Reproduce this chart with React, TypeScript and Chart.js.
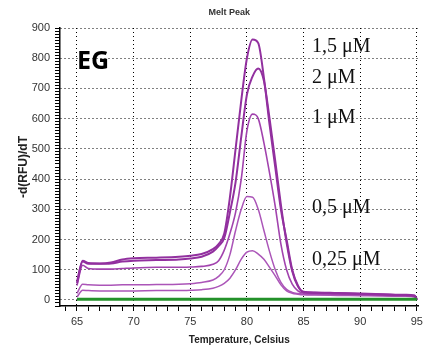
import React, { useEffect, useRef } from 'react';
import { Chart, registerables } from 'chart.js';

Chart.register(...registerables);

// ---- data ----
const temperatures = [65, 65.5, 66, 67, 68, 69, 70, 72, 74, 75, 76, 77, 77.5, 78, 78.5, 79, 79.5, 80, 80.5, 81, 81.5, 82, 82.5, 83, 83.5, 84, 84.5, 85, 86, 88, 90, 92, 94, 94.8, 95];
const conc15 = [60, 130, 122, 121, 124, 134, 138, 140, 143, 146, 152, 168, 185, 220, 340, 500, 660, 800, 862, 850, 735, 580, 440, 300, 200, 100, 48, 26, 24, 22, 20, 18, 16, 14, 2];
const conc2 = [55, 127, 120, 120, 121, 127, 130, 132, 134, 137, 143, 160, 178, 205, 290, 390, 540, 680, 740, 766, 725, 600, 460, 315, 190, 95, 45, 27, 25, 23, 21, 19, 17, 15, 3];
const conc1 = [48, 115, 104, 102, 102, 104, 106, 108, 108, 109, 111, 118, 130, 165, 220, 290, 400, 560, 615, 600, 520, 420, 310, 185, 100, 52, 30, 22, 21, 19, 18, 16, 14, 12, 2];
const conc05 = [22, 52, 50, 49, 49, 50, 50, 51, 52, 54, 58, 66, 78, 100, 150, 230, 300, 342, 340, 300, 230, 160, 100, 58, 35, 25, 21, 19, 18, 17, 16, 15, 13, 11, 1];
const conc025 = [10, 32, 31, 30, 30, 30, 30, 31, 31, 32, 34, 39, 45, 55, 72, 100, 135, 158, 163, 152, 135, 108, 80, 50, 30, 22, 19, 17, 16, 15, 14, 13, 12, 10, 1];
const ntcTemps = [65, 95];
const ntcValues = [2, 2];

const concLabels = ['1,5 μM', '2 μM', '1 μM', '0,5 μM', '0,25 μM'];
const panelLabel = 'EG';
const chartTitle = 'Melt Peak';
const xTitle = 'Temperature, Celsius';
const yTitle = '-d(RFU)/dT';
const xTickValues = Array.from({ length: 32 }, (_, i) => 64 + i); // 64..95
const yTickValues = Array.from({ length: 93 }, (_, i) => -20 + i * 10); // -20..900

// ---- layout / style config (not data) ----
const labelAnchor = { x: 85.74, ys: [820, 718, 586, 288, 116] };
const panelAnchor = { x: 65.0, y: 764 };
const titleAnchorX = 78.45;

const SANS = '"Liberation Sans", Arial, sans-serif';

const annotationPlugin = {
  id: 'textAnnotations',
  afterDatasetsDraw(chart: any) {
    const { ctx, chartArea } = chart;
    const x = chart.scales.x;
    const y = chart.scales.y;
    ctx.save();
    ctx.fillStyle = '#333';
    ctx.font = `bold 9px ${SANS}`;
    ctx.textAlign = 'center';
    ctx.textBaseline = 'middle';
    ctx.fillText(chartTitle, x.getPixelForValue(titleAnchorX), chartArea.top - 15);

    ctx.fillStyle = '#000';
    ctx.font = 'bold 25px "Open Sans", "Liberation Sans", sans-serif';
    ctx.textAlign = 'left';
    ctx.textBaseline = 'alphabetic';
    ctx.fillText(panelLabel, x.getPixelForValue(panelAnchor.x), y.getPixelForValue(panelAnchor.y));

    ctx.fillStyle = '#111';
    ctx.font = '20px "Liberation Serif", "Times New Roman", serif';
    concLabels.forEach((t, i) => {
      ctx.fillText(t, x.getPixelForValue(labelAnchor.x), y.getPixelForValue(labelAnchor.ys[i]));
    });
    ctx.restore();
  },
};

const toPoints = (xs: number[], ys: number[]) => xs.map((t, i) => ({ x: t, y: ys[i] }));

export default function App() {
  const ref = useRef<HTMLCanvasElement>(null);

  useEffect(() => {
    if (!ref.current) return;
    const lineDefaults = {
      pointRadius: 0,
      fill: false,
      cubicInterpolationMode: 'monotone' as const,
      borderJoinStyle: 'round' as const,
    };
    const chart = new Chart(ref.current, {
      type: 'line',
      data: {
        datasets: [
          { label: 'NTC', data: toPoints(ntcTemps, ntcValues), borderColor: '#23912a', borderWidth: 3, ...lineDefaults },
          { label: concLabels[0], data: toPoints(temperatures, conc15), borderColor: '#92309f', borderWidth: 2, ...lineDefaults },
          { label: concLabels[1], data: toPoints(temperatures, conc2), borderColor: '#92309f', borderWidth: 2, ...lineDefaults },
          { label: concLabels[2], data: toPoints(temperatures, conc1), borderColor: '#a243ae', borderWidth: 1.6, ...lineDefaults },
          { label: concLabels[3], data: toPoints(temperatures, conc05), borderColor: '#ab55b8', borderWidth: 1.5, ...lineDefaults },
          { label: concLabels[4], data: toPoints(temperatures, conc025), borderColor: '#ab55b8', borderWidth: 1.5, ...lineDefaults },
        ],
      },
      options: {
        responsive: false,
        animation: false,
        devicePixelRatio: 1,
        layout: { padding: { top: 28, right: 7, left: 0, bottom: 0 } },
        plugins: {
          legend: { display: false },
          tooltip: { enabled: false },
          title: { display: false },
        },
        scales: {
          x: {
            type: 'linear',
            min: 63.5,
            max: 95.15,
            afterBuildTicks: (s: any) => {
              s.ticks = xTickValues.map((v) => ({ value: v }));
            },
            afterFit: (s: any) => {
              s.height = 52;
            },
            ticks: {
              autoSkip: false,
              maxRotation: 0,
              padding: 4,
              color: '#333',
              font: { family: SANS, size: 11 },
              callback: (v: any) => (Number(v) % 5 === 0 ? String(v) : ''),
            },
            grid: {
              color: (c: any) => (c.tick && c.tick.value % 5 === 0 ? '#000' : 'rgba(0,0,0,0)'),
              lineWidth: 1,
              tickLength: 5,
              tickColor: '#000',
              tickWidth: 1,
              tickBorderDash: [],
            },
            border: { display: true, color: '#000', width: 1.5, dash: [1, 3] },
            title: {
              display: true,
              text: xTitle,
              color: '#222',
              font: { family: SANS, size: 10, weight: 'bold' },
              padding: { top: 0, bottom: 12 },
            },
          },
          y: {
            type: 'linear',
            min: -20,
            max: 900,
            afterBuildTicks: (s: any) => {
              s.ticks = yTickValues.map((v) => ({ value: v }));
            },
            afterFit: (s: any) => {
              s.width = 60;
            },
            ticks: {
              autoSkip: false,
              padding: 5,
              color: '#333',
              font: { family: SANS, size: 11 },
              callback: (v: any) => (Number(v) >= 0 && Number(v) % 100 === 0 ? String(v) : ''),
            },
            grid: {
              color: (c: any) => (c.tick && c.tick.value >= 0 && c.tick.value % 100 === 0 ? '#000' : 'rgba(0,0,0,0)'),
              lineWidth: 1,
              tickLength: 5,
              tickColor: '#000',
              tickWidth: 1,
              tickBorderDash: [],
            },
            border: { display: true, color: '#000', width: 1.5, dash: [1, 3] },
            title: {
              display: true,
              text: yTitle,
              color: '#222',
              font: { family: SANS, size: 12, weight: 'bold' },
              padding: { top: 16, bottom: 0 },
            },
          },
        },
      } as any,
      plugins: [annotationPlugin],
    });
    return () => chart.destroy();
  }, []);

  return (
    <div style={{ position: 'fixed', left: 0, top: 0, width: 427, height: 358, background: '#fff' }}>
      <canvas ref={ref} width={427} height={358} style={{ width: 427, height: 358, display: 'block' }} />
    </div>
  );
}
